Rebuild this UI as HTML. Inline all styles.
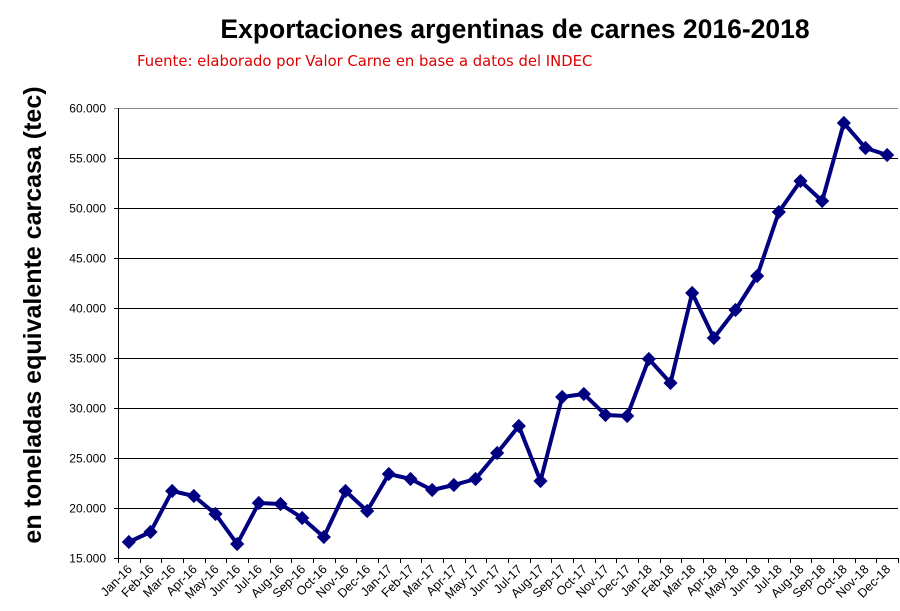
<!DOCTYPE html>
<html><head><meta charset="utf-8"><style>body{margin:0;background:#fff}svg{display:block}</style></head><body>
<svg width="900" height="611" xmlns="http://www.w3.org/2000/svg" font-family="Liberation Sans, Arial, sans-serif">
<text x="515" y="38" text-anchor="middle" font-size="26.5" font-weight="bold">Exportaciones argentinas de carnes 2016-2018</text>
<text x="137" y="66" font-size="14.8" fill="#e00000" font-family="DejaVu Sans, sans-serif">Fuente: elaborado por Valor Carne en base a datos del INDEC</text>
<text transform="translate(41,315) rotate(-90)" text-anchor="middle" font-size="25" font-weight="bold">en toneladas equivalente carcasa (tec)</text>
<g id="grid" stroke="#000" stroke-width="1"></g>
<g id="lab" font-size="12" text-anchor="end"></g>
<polyline id="ln" fill="none" stroke="#000080" stroke-width="4" stroke-linejoin="round"/>
<g id="mk" fill="#000080"></g>
<script>
var g=document.getElementById('grid'),l=document.getElementById('lab'),ns='http://www.w3.org/2000/svg';
function el(t,a,p){var e=document.createElementNS(ns,t);for(var k in a)e.setAttribute(k,a[k]);p.appendChild(e);return e;}
for(var i=0;i<=9;i++){var y=108.5+i*50;el('line',{x1:114,x2:898,y1:y,y2:y,stroke:i==0?'#888':'#000'},g);
var t=el('text',{x:106,y:y+4},l);t.textContent=(60-i*5)+'.000';}
el('line',{x1:118.5,x2:118.5,y1:108,y2:562},g);
var v=[16600,17600,21700,21200,19400,16400,20500,20400,19000,17100,21700,19700,23400,22900,21800,22300,22900,25500,28200,22700,31100,31400,29300,29200,34900,32500,41500,37000,39800,43200,49600,52700,50700,58500,56000,55300];
var m=['Jan','Feb','Mar','Apr','May','Jun','Jul','Aug','Sep','Oct','Nov','Dec'];
var w=(898-118)/36,pts=[],mk=document.getElementById('mk');
for(var i=0;i<=36;i++){var x=Math.round(118+i*w)+.5;el('line',{x1:x,x2:x,y1:558,y2:563},g);}
for(var i=0;i<36;i++){var x=118+(i+.5)*w,y=108+(60000-v[i])/100;pts.push(x+','+y);
el('rect',{x:x-5,y:y-5,width:10,height:10,transform:'rotate(45 '+x+' '+y+')'},mk);
var t=el('text',{x:x+4,y:570,transform:'rotate(-45 '+(x+4)+' 570)','font-size':12.5},l);t.textContent=m[i%12]+'-'+(16+Math.floor(i/12));}
document.getElementById('ln').setAttribute('points',pts.join(' '));
</script>
</svg>
</body></html>
